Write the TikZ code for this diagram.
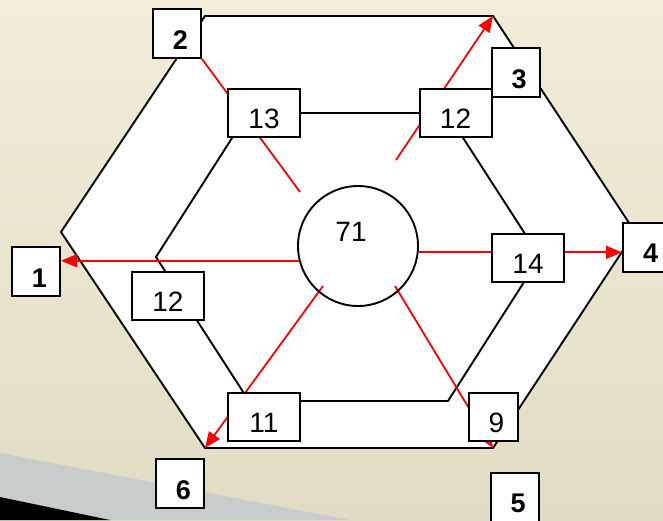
\documentclass[tikz,border=0pt]{standalone}
\usepackage{fontspec}
\setmainfont{Liberation Sans}
\usetikzlibrary{arrows.meta}
\definecolor{bgtop}{HTML}{F3ECD9}
\definecolor{bgbot}{HTML}{E2DCC5}
\definecolor{band}{HTML}{C9CCCC}
\pgfdeclarelayer{bg}
\pgfsetlayers{bg,main}
\newcommand\tagtxt[1]{\hspace*{7pt}#1}
\tikzset{
 numbox/.style={draw=black, line width=2pt, fill=white, minimum width=72pt, minimum height=48pt, inner sep=0pt, font=\fontsize{28}{28}\selectfont, text height=31pt, text depth=0pt},
 smallbox/.style={numbox, minimum width=49pt},
 tagbox/.style={draw=black, line width=2pt, fill=white, minimum width=48pt, minimum height=49pt, inner sep=0pt, font=\bfseries\fontsize{27}{27}\selectfont, text height=31pt, text depth=0pt},
 hexline/.style={draw=black, line width=1.9pt, line join=miter},
 redline/.style={draw=red, line width=1.8pt},
 redarrow/.style={redline, -{Triangle[length=16pt,width=13pt]}},
 hub/.style={circle, draw=black, line width=1.9pt, minimum size=120pt, inner sep=0pt},
 hubtext/.style={font=\fontsize{28}{28}\selectfont, inner sep=0pt, text depth=0pt}
}
\begin{document}
\begin{tikzpicture}[x=1pt,y=-1pt]
\useasboundingbox (0,0) rectangle (663,520);
% nodes
\node[hub] (c) at (358,246) {};
\node[hubtext] (t71) at (351,232) {71};
\node[numbox] (b13) at (264,113) {13};
\node[numbox] (b12a) at (455.5,113) {12};
\node[numbox] (b14) at (528,257.5) {14};
\node[smallbox] (b9) at (493.5,417) {\hspace*{6pt}9};
\node[numbox] (b12b) at (168,296) {12};
\node[numbox] (b11) at (264,417) {11};
\node[tagbox] (b2) at (177,33.5) {\tagtxt{2}};
\node[tagbox] (b3) at (515.5,72.5) {\tagtxt{3}};
\node[tagbox] (b4) at (647,247) {\tagtxt{4}};
\node[tagbox] (b1) at (36,271.5) {\tagtxt{1}};
\node[tagbox] (b6) at (180,483.5) {\tagtxt{6}};
\node[tagbox] (b5) at (514.5,497) {\tagtxt{5}};
\begin{pgfonlayer}{bg}
\shade[top color=bgtop,bottom color=bgbot] (0,0) rectangle (663,520);
\fill[band] (0,453) -- (350,520) -- (0,520) -- cycle;
\fill[black] (0,497) -- (110,520) -- (0,520) -- cycle;
\coordinate (oL) at (61,232);
\coordinate (oTL) at (205,16);
\coordinate (oTR) at (493,16);
\coordinate (oR) at (635,232);
\coordinate (oBR) at (493,448);
\coordinate (oBL) at (205,448);
\draw[hexline, fill=white] (oL) -- (oTL) -- (oTR) -- (oR) -- (oBR) -- (oBL) -- cycle;
\coordinate (iL) at (156,257);
\coordinate (iTL) at (248,113);
\coordinate (iTR) at (447,113);
\coordinate (iR) at (540,257);
\coordinate (iBR) at (448,401);
\coordinate (iBL) at (249,401);
\draw[hexline] (iL) -- (iTL) -- (iTR) -- (iR) -- (iBR) -- (iBL) -- cycle;
\coordinate (s2) at (300,192);
\coordinate (s3) at (396,160);
\coordinate (s6) at (323,286);
\coordinate (s5) at (395,286);
\draw[redline] (s2) -- (b2.south east);
\draw[redarrow] (s3) -- (oTR);
\draw[redarrow] (c.194.5) -- (c.194.5 -| b1.east);
\draw[redarrow] (c.354) -- (c.354 -| b4.west);
\draw[redarrow] (s6) -- (oBL);
\draw[redarrow] (s5) -- (oBR);
\end{pgfonlayer}
\end{tikzpicture}
\end{document}
